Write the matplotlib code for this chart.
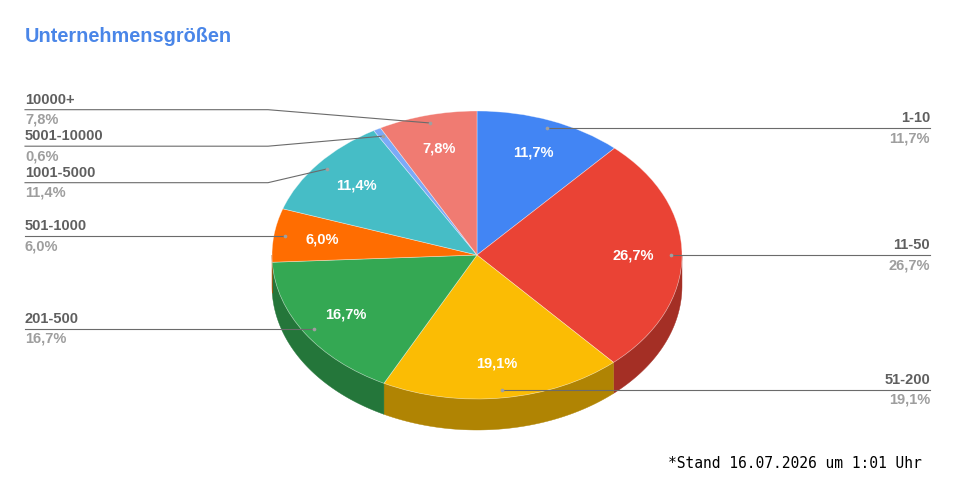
import numpy as np
import matplotlib
matplotlib.use("Agg")
import matplotlib.pyplot as plt
from matplotlib.patches import Polygon

# data
categories = ["1-10", "11-50", "51-200", "201-500", "501-1000",
              "1001-5000", "5001-10000", "10000+"]
shares = [11.7, 26.7, 19.1, 16.7, 6.0, 11.4, 0.6, 7.8]
top_colors = ["#4285F4", "#EA4335", "#FBBC04", "#34A853", "#FF6D01",
              "#46BDC6", "#7BAAF7", "#F07B72"]
side_colors = ["#2E5DAB", "#A42F25", "#B08403", "#24763A", "#B34C01",
               "#31848B", "#5677AD", "#A8564F"]
title = "Unternehmensgrößen"
footnote = "*Stand 16.07.2026 um 1:01 Uhr"

# layout (pixels)
W, H = 954, 501
CX, CY, RX, RY = 477, 255, 205, 144
DEPTH = 31 / RY
FS = 10.5


def dx(px):
    return (px - CX) / RX


def dy(py):
    return (CY - py) / RY


def fmt(p):
    return f"{p:.1f}".replace(".", ",") + "%"


fig = plt.figure(figsize=(W / 100, H / 100), dpi=100)
ax = fig.add_axes([0, 0, 1, 1])
plt.rcParams["font.family"] = ["Liberation Sans", "DejaVu Sans"]

vals = np.array(shares)
cum = np.concatenate([[0], np.cumsum(vals)]) / vals.sum()

# side of the 3d pie (front half only)
for i in range(len(vals)):
    t1 = 90 - 360 * cum[i + 1]
    t2 = 90 - 360 * cum[i]
    a, b = max(t1, -180), min(t2, 0)
    if a >= b:
        continue
    t = np.radians(np.linspace(a, b, 80))
    top = np.column_stack([np.cos(t), np.sin(t)])
    bot = np.column_stack([np.cos(t), np.sin(t) - DEPTH])[::-1]
    ax.add_patch(Polygon(np.vstack([top, bot]), closed=True,
                         facecolor=side_colors[i], edgecolor=side_colors[i],
                         linewidth=0.3, zorder=1))

wedges, _, autotexts = ax.pie(
    vals, colors=top_colors, startangle=90, counterclock=False,
    radius=1, center=(0, 0),
    autopct=lambda p: fmt(p) if p >= 1 else "", pctdistance=0.76,
    wedgeprops=dict(edgecolor=(1, 1, 1, 0.45), linewidth=0.5, zorder=2),
    textprops=dict(color="white", fontweight="bold", fontsize=FS))
for t in autotexts:
    t.set_zorder(5)

ax.set_aspect("auto")
ax.set_xlim(dx(0), dx(W))
ax.set_ylim(dy(H), dy(0))
ax.axis("off")

# leader dots and lines
mid = np.radians(90 - 360 * (cum[:-1] + cum[1:]) / 2)
dot_x = 0.945 * np.cos(mid)
dot_y = 0.945 * np.sin(mid)
ax.scatter(dot_x, dot_y, s=7, color="#a0a0a0", zorder=6, linewidths=0)

name_col, val_col, line_col = "#5f5f5f", "#9e9e9e", "#6b6b6b"
off = 10 / RY

# right side labels
for i in range(len(vals)):
    if dot_x[i] <= 0:
        continue
    xr = dx(930)
    ax.plot([dot_x[i], xr], [dot_y[i], dot_y[i]], color=line_col,
            lw=0.8, zorder=4)
    ax.text(xr, dot_y[i] + off, categories[i], ha="right", va="center",
            fontsize=FS, fontweight="bold", color=name_col)
    ax.text(xr, dot_y[i] - off, fmt(vals[i]), ha="right", va="center",
            fontsize=FS, fontweight="bold", color=val_col)

# left side labels, spread so they don't overlap
left = [i for i in range(len(vals)) if dot_x[i] < 0]
left.sort(key=lambda i: CY - dot_y[i] * RY)
gap = 36.5
clusters = [[CY - dot_y[i] * RY] for i in left]
merged = True
while merged:
    merged = False
    pos = []
    for c in clusters:
        m = np.mean(c)
        n = len(c)
        pos.append((m - (n - 1) / 2 * gap, m + (n - 1) / 2 * gap))
    for k in range(len(clusters) - 1):
        if pos[k + 1][0] - pos[k][1] < gap:
            clusters[k] = clusters[k] + clusters[k + 1]
            del clusters[k + 1]
            merged = True
            break
label_y = []
for c in clusters:
    m = np.mean(c) + (3.5 if len(c) > 1 else 0)
    n = len(c)
    label_y += [m + (k - (n - 1) / 2) * gap for k in range(n)]

xl, xe = dx(25), dx(268)
for i, ly in zip(left, label_y):
    yy = dy(ly)
    ax.plot([dot_x[i], xe, xl], [dot_y[i], yy, yy], color=line_col,
            lw=0.8, zorder=4)
    ax.text(xl, yy + off, categories[i], ha="left", va="center",
            fontsize=FS, fontweight="bold", color=name_col)
    ax.text(xl, yy - off, fmt(vals[i]), ha="left", va="center",
            fontsize=FS, fontweight="bold", color=val_col)

fig.text(25 / W, 1 - 37 / H, title, ha="left", va="center", fontsize=14.3,
         fontweight="bold", color="#4a86e8")
fig.text(922 / W, 1 - 464 / H, footnote, ha="right", va="center",
         fontsize=10.5, family="DejaVu Sans Mono", color="black")

fig.savefig("out.png", dpi=100, facecolor="white")
